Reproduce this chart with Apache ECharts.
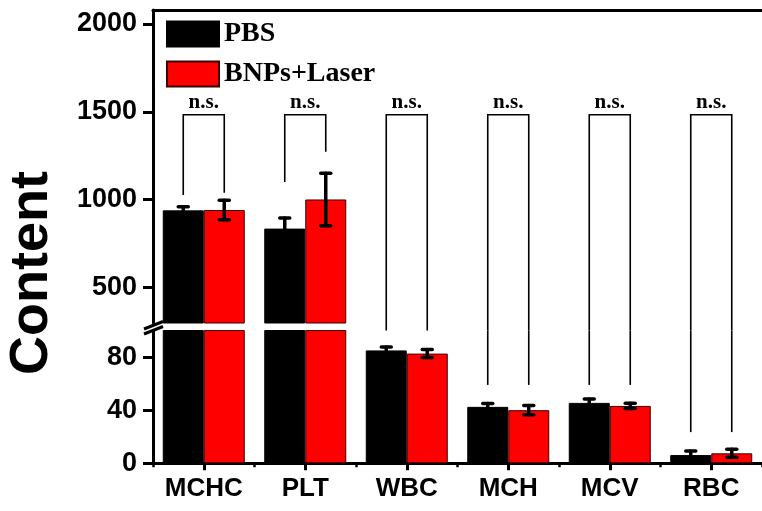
<!DOCTYPE html>
<html><head><meta charset="utf-8">
<script src="https://cdn.jsdelivr.net/npm/echarts@6/dist/echarts.min.js"></script>
<style>html,body{margin:0;padding:0;background:#fff}#c{width:762px;height:511px}</style>
</head><body><div id="c"></div>
<script>
// ---- data ----
const categories = ['MCHC', 'PLT', 'WBC', 'MCH', 'MCV', 'RBC'];
const pbsValues = [938, 834, 85.0, 42.5, 45.5, 6.2];
const pbsErrors = [20, 60, 2.5, 2.5, 3, 3];
const laserValues = [940, 1000, 82.6, 40.0, 43.2, 7.5];
const laserErrors = [55, 150, 3, 3.5, 2, 3];
const upperTickLabels = [500, 1000, 1500, 2000];
const upperMinorTicks = [750, 1250, 1750];
const lowerTickLabels = [0, 40, 80];
const lowerMinorTicks = [20, 60];
const bracketLevel = 1483;
const bracketLeftEnds = [1026, 1100, 100, 59, 59, 23.5];
const bracketRightEnds = [1038, 1272, 100, 59, 59, 23.5];
const bracketText = 'n.s.';

// ---- layout ----
const GRID_LEFT = 153, GRID_WIDTH = 611;
const UPPER_TOP = 10, UPPER_HEIGHT = 313, UPPER_MIN = 296, UPPER_MAX = 2080;
const LOWER_TOP = 330.5, LOWER_HEIGHT = 132.8, LOWER_MIN = 0, LOWER_MAX = 100;
const GAP = LOWER_TOP - (UPPER_TOP + UPPER_HEIGHT);
const BAR_W = 41, HALF = BAR_W / 2;
const SANS = 'Liberation Sans, Arial, sans-serif';
const SERIF = 'Liberation Serif, Times New Roman, serif';

const chart = echarts.init(document.getElementById('c'), null, {renderer: 'canvas'});

function errData(values, errs) { return values.map((v, i) => [i, v, errs[i]]); }
function errorSeries(values, errs, offset, xi, yi, segMin, segMax) {
  return {
    type: 'custom', xAxisIndex: xi, yAxisIndex: yi, z: 4, silent: true,
    data: errData(values, errs),
    renderItem: function (params, api) {
      const i = api.value(0), v = api.value(1), e = api.value(2);
      if (v < segMin || v > segMax) return null;
      const t = api.coord([i, v + e]), b = api.coord([i, v - e]);
      const x = t[0] + offset;
      const st = {stroke: '#000', lineWidth: 3.5, lineCap: 'round'};
      return {type: 'group', children: [
        {type: 'line', shape: {x1: x, y1: t[1], x2: x, y2: b[1]}, style: st},
        {type: 'line', shape: {x1: x - 5, y1: t[1], x2: x + 5, y2: t[1]}, style: st},
        {type: 'line', shape: {x1: x - 5, y1: b[1], x2: x + 5, y2: b[1]}, style: st}
      ]};
    }
  };
}
function barSeries(name, values, color, border, xi, yi) {
  return {type: 'bar', name: name, data: values, xAxisIndex: xi, yAxisIndex: yi,
    barWidth: BAR_W, barGap: '0%', clip: true, z: 2,
    itemStyle: {color: color, borderColor: border, borderWidth: 1}};
}
const bracketData = categories.map((c, i) => [i, bracketLeftEnds[i], bracketRightEnds[i]]);
const plain = v => String(v);

const option = {
  animation: false,
  backgroundColor: '#fff',
  grid: [
    {left: GRID_LEFT, width: GRID_WIDTH, top: UPPER_TOP, height: UPPER_HEIGHT},
    {left: GRID_LEFT, width: GRID_WIDTH, top: LOWER_TOP, height: LOWER_HEIGHT}
  ],
  legend: {
    orient: 'vertical', left: 166, top: 20, padding: 0, itemWidth: 52, itemHeight: 25, itemGap: 12,
    icon: 'rect', data: ['PBS', 'BNPs+Laser'],
    textStyle: {fontFamily: SERIF, fontWeight: 'bold', fontSize: 28, color: '#000'}
  },
  xAxis: [
    {gridIndex: 0, type: 'category', data: categories, position: 'top',
      axisLine: {show: true, onZero: false, lineStyle: {color: '#000', width: 3}},
      axisTick: {show: false}, axisLabel: {show: false}, splitLine: {show: false}},
    {gridIndex: 1, type: 'category', data: categories, position: 'bottom',
      axisLine: {show: true, onZero: false, lineStyle: {color: '#000', width: 3}},
      axisTick: {show: true, alignWithLabel: true, length: 7, lineStyle: {color: '#000', width: 3}},
      axisLabel: {show: true, interval: 0, hideOverlap: false, color: '#000', fontFamily: SANS, fontWeight: 'bold', fontSize: 26, margin: 13},
      splitLine: {show: false}},
    {gridIndex: 1, type: 'category', data: categories, position: 'bottom',
      axisLine: {show: false, onZero: false},
      axisTick: {show: true, interval: 0, length: 4, lineStyle: {color: '#000', width: 2.5}},
      axisLabel: {show: false}, splitLine: {show: false}}
  ],
  yAxis: [
    {gridIndex: 0, type: 'value', min: UPPER_MIN, max: UPPER_MAX,
      axisLine: {show: true, lineStyle: {color: '#000', width: 3}},
      axisTick: {show: true, customValues: upperTickLabels, length: 10, lineStyle: {color: '#000', width: 3}},
      axisLabel: {show: true, customValues: upperTickLabels, formatter: plain, color: '#000', fontFamily: SANS, fontWeight: 'bold', fontSize: 27, margin: 16},
      splitLine: {show: false}},
    {gridIndex: 0, type: 'value', min: UPPER_MIN, max: UPPER_MAX,
      axisLine: {show: false},
      axisTick: {show: true, customValues: upperMinorTicks, length: 6, lineStyle: {color: '#000', width: 3}},
      axisLabel: {show: false}, splitLine: {show: false}},
    {gridIndex: 1, type: 'value', min: LOWER_MIN, max: LOWER_MAX,
      axisLine: {show: true, lineStyle: {color: '#000', width: 3}},
      axisTick: {show: true, customValues: lowerTickLabels, length: 10, lineStyle: {color: '#000', width: 3}},
      axisLabel: {show: true, customValues: lowerTickLabels, formatter: plain, color: '#000', fontFamily: SANS, fontWeight: 'bold', fontSize: 27, margin: 16},
      splitLine: {show: false}},
    {gridIndex: 1, type: 'value', min: LOWER_MIN, max: LOWER_MAX,
      axisLine: {show: false},
      axisTick: {show: true, customValues: lowerMinorTicks, length: 6, lineStyle: {color: '#000', width: 3}},
      axisLabel: {show: false}, splitLine: {show: false}}
  ],
  graphic: [
    {type: 'text', x: 32, y: 273, rotation: Math.PI / 2,
      style: {text: 'Content', fill: '#000', font: 'bold 54px ' + SANS, textAlign: 'center', textVerticalAlign: 'middle'}},
    {type: 'line', shape: {x1: 144, y1: 329, x2: 163, y2: 321.5}, style: {stroke: '#000', lineWidth: 3}},
    {type: 'line', shape: {x1: 144, y1: 334, x2: 163, y2: 326.5}, style: {stroke: '#000', lineWidth: 3}}
  ],
  series: [
    barSeries('PBS', pbsValues, '#000000', '#000000', 0, 0),
    barSeries('BNPs+Laser', laserValues, '#ff0000', '#3a0000', 0, 0),
    barSeries('PBS', pbsValues, '#000000', '#000000', 1, 2),
    barSeries('BNPs+Laser', laserValues, '#ff0000', '#3a0000', 1, 2),
    errorSeries(pbsValues, pbsErrors, -HALF, 0, 0, UPPER_MIN, UPPER_MAX),
    errorSeries(laserValues, laserErrors, HALF, 0, 0, UPPER_MIN, UPPER_MAX),
    errorSeries(pbsValues, pbsErrors, -HALF, 1, 2, LOWER_MIN, LOWER_MAX),
    errorSeries(laserValues, laserErrors, HALF, 1, 2, LOWER_MIN, LOWER_MAX),
    {
      type: 'custom', xAxisIndex: 0, yAxisIndex: 0, z: 5, silent: true, data: bracketData,
      renderItem: function (params, api) {
        const i = api.value(0), l = api.value(1), r = api.value(2);
        const top = api.coord([i, bracketLevel]);
        const xl = top[0] - HALF, xr = top[0] + HALF;
        const bottomY = api.coord([i, UPPER_MIN])[1] + GAP;
        const yl = l > LOWER_MAX ? api.coord([i, l])[1] : bottomY;
        const yr = r > LOWER_MAX ? api.coord([i, r])[1] : bottomY;
        return {type: 'group', children: [
          {type: 'polyline', shape: {points: [[xl, yl], [xl, top[1]], [xr, top[1]], [xr, yr]]},
            style: {stroke: '#000', lineWidth: 1.6, fill: null}},
          {type: 'text', x: top[0], y: top[1] - 2,
            style: {text: bracketText, fill: '#000', font: 'bold 21px ' + SERIF, textAlign: 'center', textVerticalAlign: 'bottom'}}
        ]};
      }
    },
    {
      type: 'custom', xAxisIndex: 1, yAxisIndex: 2, z: 5, silent: true, data: bracketData,
      renderItem: function (params, api) {
        const i = api.value(0), l = api.value(1), r = api.value(2);
        const c = api.coord([i, LOWER_MAX]);
        const kids = [];
        if (l <= LOWER_MAX) kids.push({type: 'line', shape: {x1: c[0] - HALF, y1: c[1], x2: c[0] - HALF, y2: api.coord([i, l])[1]}, style: {stroke: '#000', lineWidth: 1.6}});
        if (r <= LOWER_MAX) kids.push({type: 'line', shape: {x1: c[0] + HALF, y1: c[1], x2: c[0] + HALF, y2: api.coord([i, r])[1]}, style: {stroke: '#000', lineWidth: 1.6}});
        return {type: 'group', children: kids};
      }
    }
  ]
};
chart.setOption(option);
</script>
</body></html>
